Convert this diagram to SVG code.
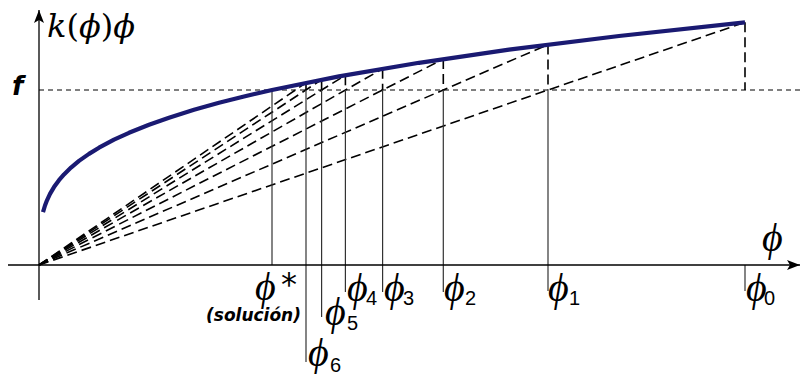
<svg xmlns="http://www.w3.org/2000/svg" width="801" height="374" viewBox="0 0 801 374">
<defs>
<marker id="arr" markerUnits="userSpaceOnUse" markerWidth="16" markerHeight="12" viewBox="-14 -6 16 12" refX="0" refY="0" orient="auto">
<path d="M0,0 L-13,-5 L-10,0 L-13,5 Z" fill="#000"/>
</marker>
</defs>
<style>
.axis{stroke:#000;stroke-width:1.3;fill:none}
.fline{stroke:#000;stroke-width:1;stroke-dasharray:5 4;fill:none}
.ray{stroke:#000;stroke-width:1.6;stroke-dasharray:10 5;fill:none}
.vd{stroke:#000;stroke-width:1.6;stroke-dasharray:10 5;fill:none}
.vs{stroke:#333;stroke-width:1.2;fill:none}
.curve{stroke:#1a1a72;stroke-width:4.2;fill:none;stroke-linejoin:round;stroke-linecap:butt}
.phi{font-family:"Liberation Serif","DejaVu Serif",serif;font-style:italic;font-size:40px;fill:#000}
.sub{font-family:"Liberation Sans",Arial,sans-serif;font-size:20px;fill:#000}
.ast{font-family:"DejaVu Sans",sans-serif;font-size:32px;fill:#000}
.big{font-family:"DejaVu Serif",serif;font-size:32px;fill:#000}
.bi{font-family:"DejaVu Sans",sans-serif;font-weight:bold;font-style:italic;fill:#000}
</style>
<g id="connectors">
<line class="fline" x1="39" y1="90" x2="801" y2="90"/>
<g id="rays">
<line class="ray" x1="39" y1="265" x2="745" y2="22.3"/>
<line class="ray" x1="39" y1="265" x2="548" y2="44.6"/>
<line class="ray" x1="39" y1="265" x2="443.3" y2="59.1"/>
<line class="ray" x1="39" y1="265" x2="382.6" y2="68.8"/>
<line class="ray" x1="39" y1="265" x2="345.4" y2="75.3"/>
<line class="ray" x1="39" y1="265" x2="321.6" y2="79.7"/>
<line class="ray" x1="39" y1="265" x2="306" y2="82.8"/>
</g>
<g id="verticals">
<line class="vd" x1="745" y1="22.3" x2="745" y2="90"/>
<line class="vd" x1="548" y1="44.6" x2="548" y2="90"/>
<line class="vd" x1="443.3" y1="59.1" x2="443.3" y2="90"/>
<line class="vd" x1="382.6" y1="68.8" x2="382.6" y2="90"/>
<line class="vd" x1="345.4" y1="75.3" x2="345.4" y2="90"/>
<line class="vd" x1="321.6" y1="79.7" x2="321.6" y2="90"/>
<line class="vd" x1="306" y1="82.8" x2="306" y2="90"/>
<line class="vs" x1="745" y1="265" x2="745" y2="291"/>
<line class="vs" x1="548" y1="90" x2="548" y2="291"/>
<line class="vs" x1="443.3" y1="90" x2="443.3" y2="292"/>
<line class="vs" x1="382.6" y1="90" x2="382.6" y2="292"/>
<line class="vs" x1="345.4" y1="90" x2="345.4" y2="292"/>
<line class="vs" x1="321.6" y1="90" x2="321.6" y2="317"/>
<line class="vs" x1="306" y1="90" x2="306" y2="362"/>
<line class="vs" x1="272" y1="90" x2="272" y2="265"/>
</g>
<line class="axis" x1="39" y1="300" x2="39" y2="10" marker-end="url(#arr)"/>
<line class="axis" x1="8" y1="265" x2="800" y2="265" marker-end="url(#arr)"/>
</g>
<g id="curve">
<path class="curve" d="M43,212.2 L45,205.5 L47,200.3 L50,193.9 L54,187.1 L59,180.2 L64,174.4 L71,167.6 L79,160.9 L89,153.9 L99,147.7 L114,139.7 L129,132.8 L149,124.8 L169,117.7 L194,109.8 L219,102.8 L244,96.5 L272,90 L339,76.4 L419,62.8 L509,49.7 L619,36 L745,22.3"/>
</g>
<g id="labels">
<text class="big" x="47" y="37"><tspan font-style="italic">k</tspan>(<tspan font-style="italic">ϕ</tspan>)<tspan font-style="italic">ϕ</tspan></text>
<text class="bi" x="12" y="95" font-size="26">f</text>
<text class="phi" x="762" y="251">ϕ</text>
<g id="l-star"><text class="phi" x="255" y="300">ϕ</text><text class="ast" x="281" y="295">*</text></g>
<text class="bi" x="206" y="321" font-size="17">(solución)</text>
<g id="l6"><text class="phi" x="308" y="366">ϕ</text><text class="sub" x="330" y="372">6</text></g>
<g id="l5"><text class="phi" x="325" y="325">ϕ</text><text class="sub" x="347" y="330">5</text></g>
<g id="l4"><text class="phi" x="347" y="301">ϕ</text><text class="sub" x="366" y="305">4</text></g>
<g id="l3"><text class="phi" x="384" y="301">ϕ</text><text class="sub" x="403" y="305">3</text></g>
<g id="l2"><text class="phi" x="444" y="301">ϕ</text><text class="sub" x="465" y="305">2</text></g>
<g id="l1"><text class="phi" x="548" y="301">ϕ</text><text class="sub" x="569" y="305">1</text></g>
<g id="l0"><text class="phi" x="746" y="301">ϕ</text><text class="sub" x="764" y="305">0</text></g>
</g>
</svg>
